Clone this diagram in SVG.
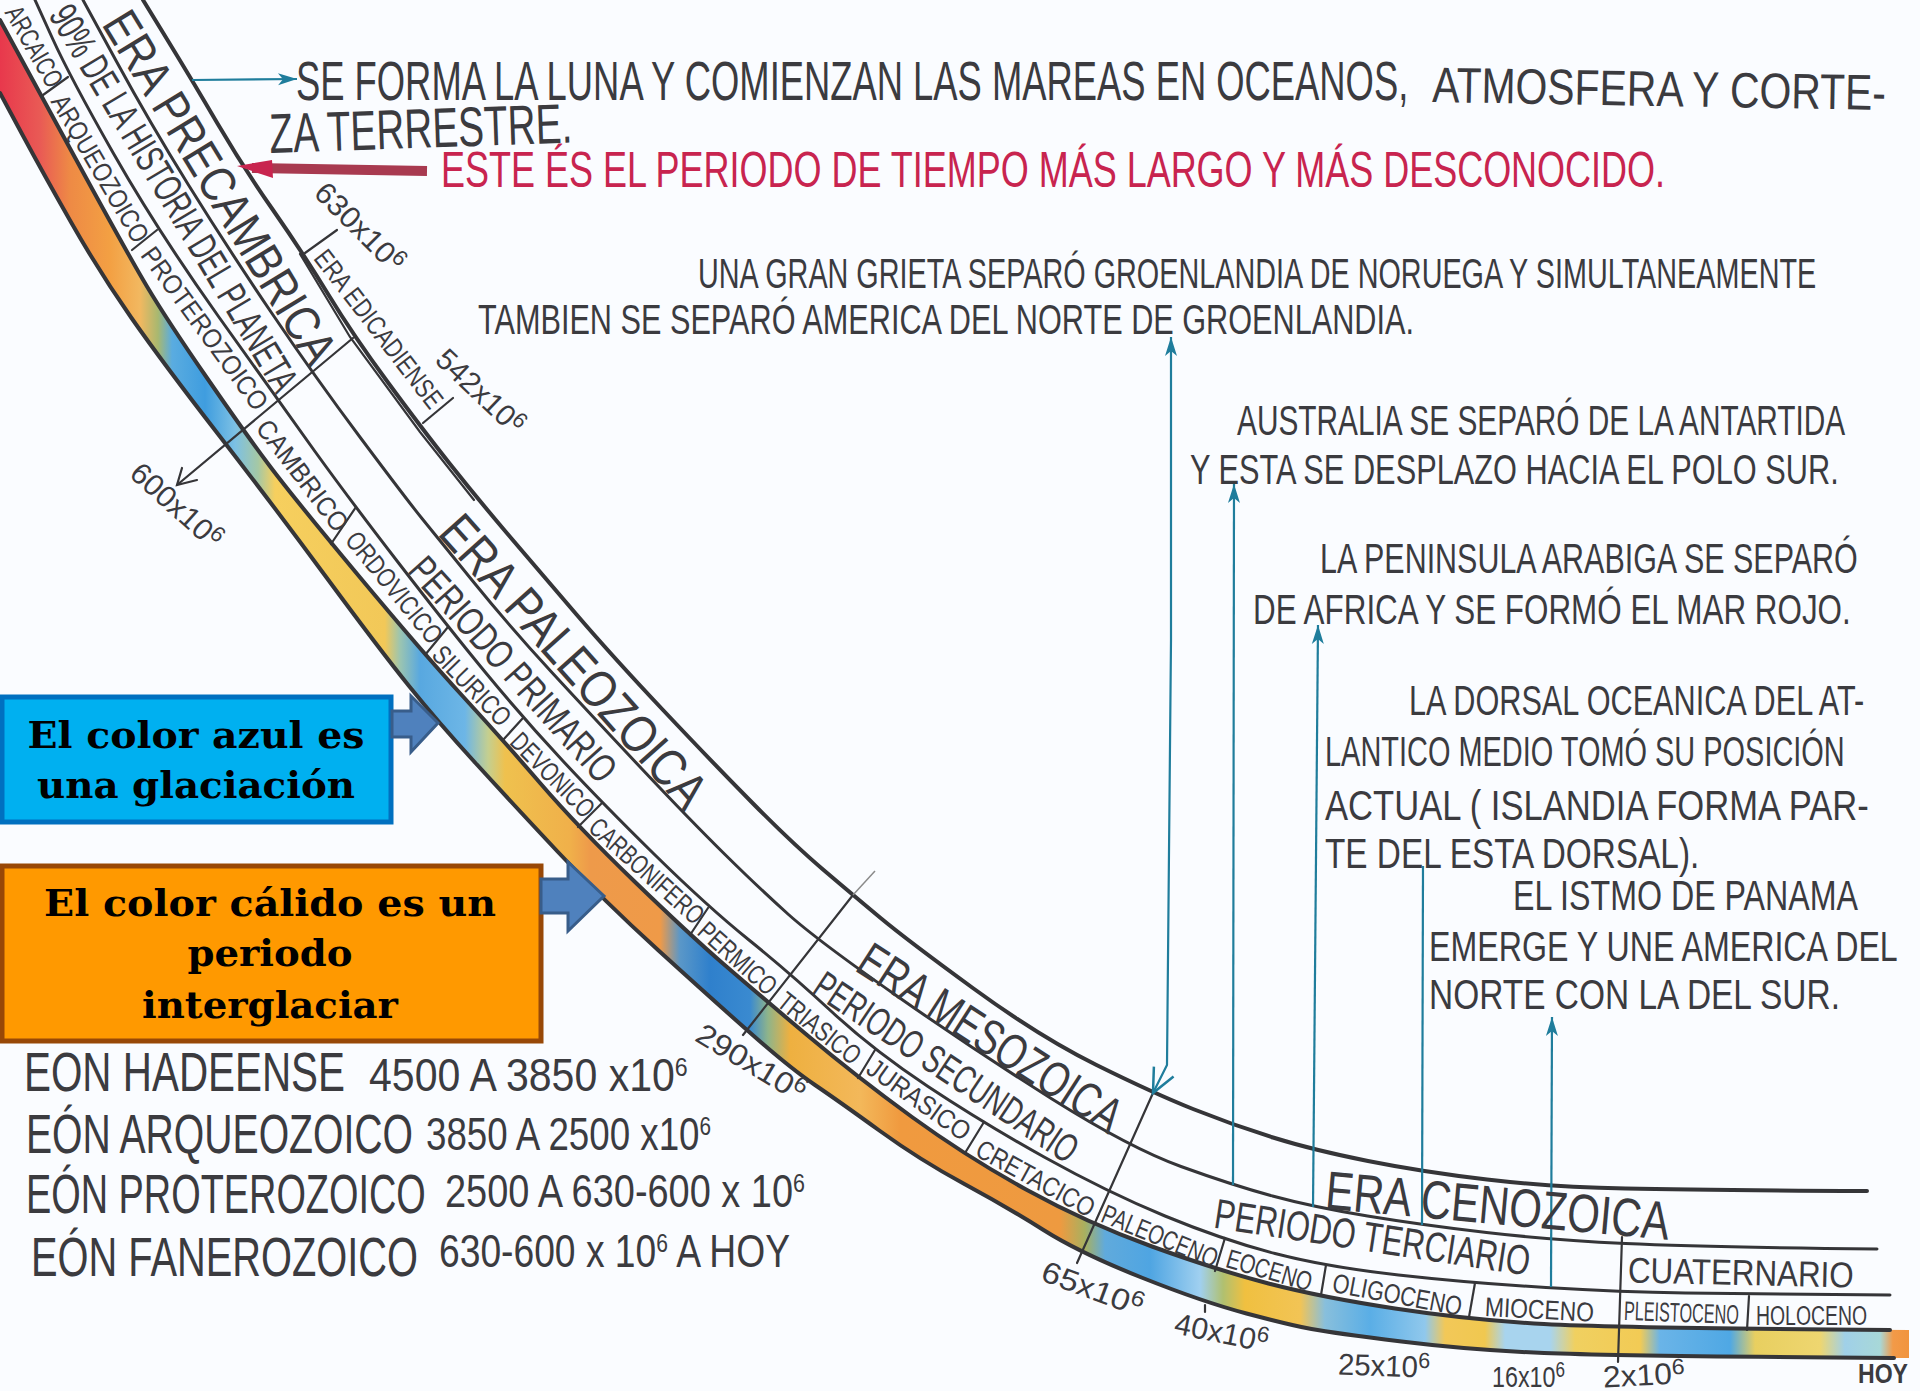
<svg xmlns="http://www.w3.org/2000/svg" width="1920" height="1391" viewBox="0 0 1920 1391">
<style>
.h{font-family:"Liberation Sans Narrow","Liberation Sans",Arial,sans-serif;fill:#3b3b3f}
.c{dominant-baseline:central}
.r{fill:#c8244f}
.s27{font-size:27px}.s28{font-size:28px}.s30{font-size:30px}.s36{font-size:36px}.s40{font-size:40px}.s42{font-size:42px}.s46{font-size:46px}.s50{font-size:50px}.s52{font-size:52px}.s54{font-size:54px}.s56{font-size:56px}
.b{font-family:"DejaVu Serif",serif;font-weight:bold;font-size:37px;fill:#000;text-anchor:middle}
.l{fill:none;stroke:#353538;stroke-width:3;stroke-linejoin:round;stroke-linecap:round}
.w{stroke-width:4}
.t{fill:none;stroke:#353538;stroke-width:2.2;stroke-linecap:round}
.a{fill:none;stroke:#1f7d9c;stroke-width:2.2;stroke-linejoin:round}
.ba{fill:#4f81bd;stroke:#385d8a;stroke-width:3}
</style>
<defs>
<marker id="tip" markerUnits="userSpaceOnUse" markerWidth="26" markerHeight="16" refX="22" refY="8" orient="auto-start-reverse"><path d="M3,2 L22,8 L3,14 L8,8 Z" fill="#1f7d9c"/></marker>
<marker id="open" markerUnits="userSpaceOnUse" markerWidth="34" markerHeight="30" refX="30" refY="15" orient="auto-start-reverse"><path d="M6,4 L30,15 L6,26" fill="none" stroke="#1f7d9c" stroke-width="2.5"/></marker>
<linearGradient id="clima" gradientUnits="userSpaceOnUse" x1="0" y1="0" x2="1920" y2="0">
<stop offset="0" stop-color="#e8384c"/><stop offset=".0208" stop-color="#e95a55"/><stop offset=".0365" stop-color="#ee8a45"/><stop offset=".0573" stop-color="#f3a043"/><stop offset=".0729" stop-color="#f2b860"/><stop offset=".0823" stop-color="#a8b870"/><stop offset=".0896" stop-color="#5aace0"/><stop offset=".1068" stop-color="#3f9ddf"/><stop offset=".1224" stop-color="#7cc0e4"/><stop offset=".1344" stop-color="#a5c8a5"/><stop offset=".1432" stop-color="#f6cf5e"/><stop offset=".2005" stop-color="#f2c858"/><stop offset=".2083" stop-color="#9cc5b0"/><stop offset=".2188" stop-color="#58a8e0"/><stop offset=".2422" stop-color="#6db6e6"/><stop offset=".2542" stop-color="#c4cf90"/><stop offset=".263" stop-color="#efc14e"/><stop offset=".2969" stop-color="#f0b04a"/><stop offset=".3073" stop-color="#ee9a4a"/><stop offset=".3438" stop-color="#ef9a48"/><stop offset=".3542" stop-color="#5a97c8"/><stop offset=".3698" stop-color="#2f80cc"/><stop offset=".3906" stop-color="#3a8ad0"/><stop offset=".4" stop-color="#8fb48a"/><stop offset=".4115" stop-color="#eeb040"/><stop offset=".4479" stop-color="#f3b85a"/><stop offset=".4688" stop-color="#f09a3f"/><stop offset=".5521" stop-color="#ee9a40"/><stop offset=".5651" stop-color="#a8b060"/><stop offset=".5755" stop-color="#60aadc"/><stop offset=".599" stop-color="#4fa5e2"/><stop offset=".625" stop-color="#a0d0f0"/><stop offset=".637" stop-color="#b0c070"/><stop offset=".6484" stop-color="#f0c040"/><stop offset=".6771" stop-color="#f2c455"/><stop offset=".6901" stop-color="#88bfdc"/><stop offset=".7135" stop-color="#5aaee6"/><stop offset=".7422" stop-color="#90c8ec"/><stop offset=".7526" stop-color="#f2c858"/><stop offset=".7734" stop-color="#f0c850"/><stop offset=".7839" stop-color="#a8d4ee"/><stop offset=".8073" stop-color="#a8d4ee"/><stop offset=".8203" stop-color="#f0d060"/><stop offset=".8542" stop-color="#f2cb55"/><stop offset=".8646" stop-color="#6ab4e8"/><stop offset=".901" stop-color="#4fa8e4"/><stop offset=".9141" stop-color="#e8cf60"/><stop offset=".9479" stop-color="#eed670"/><stop offset=".9609" stop-color="#a0d0e8"/><stop offset=".9792" stop-color="#a8d8d8"/><stop offset=".9859" stop-color="#f29a48"/><stop offset="1" stop-color="#f09038"/>
</linearGradient>
</defs>
<rect width="1920" height="1391" fill="#fafcff"/>
<g id="banda-climatica">
<path fill="url(#clima)" d="M0,20 L63.5,136.5 Q127,253 147,286.5 Q167,320 206,376.5 Q245,433 269,465 Q293,497 358,575 Q423,653 463,696.5 Q503,740 540.5,783.5 Q578,827 634,881 Q690,935 723.5,964 Q757,993 807,1035 Q857,1077 912,1117 Q967,1157 1027,1190 Q1087,1223 1152,1246.5 Q1217,1270 1268.5,1283.5 Q1320,1297 1395,1308.5 Q1470,1320 1544,1324 Q1618,1328 1909,1330 L1909,1358 L1894,1358 Q1618,1356 1544,1353 Q1470,1350 1401.5,1341.5 Q1333,1333 1311.5,1329 Q1290,1325 1246.5,1313.5 Q1203,1302 1141.5,1277.5 Q1080,1253 1043.5,1230 Q1007,1207 963.5,1183.5 Q920,1160 880,1131 Q840,1102 815,1085 Q790,1068 751.5,1034 Q713,1000 658,950 Q603,900 557.5,851.5 Q512,803 475,762.5 Q438,722 409,686 Q380,650 326.5,577.5 Q273,505 218,434 Q163,363 131.5,318 Q100,273 71.5,223 Q43,173 21.5,133 L0,93 Z"/>
</g>
<g id="curvas">
<path class="l w" d="M143,0 L167.5,40 Q192,80 217.5,123.5 Q243,167 273,210 Q303,253 328,294 Q353,335 388,382.5 Q423,430 450,464 Q477,498 508.5,535 Q540,572 576.5,614.5 Q613,657 663,710 Q713,763 753,803.5 Q793,844 823,869.5 Q853,895 880,917.5 Q907,940 973.5,988.5 Q1040,1037 1096.5,1065 Q1153,1093 1193,1109 Q1233,1125 1273,1137.5 Q1313,1150 1368,1161 Q1423,1172 1487,1179.5 Q1551,1187 1625.5,1188.5 Q1700,1190 1867,1191"/>
<path class="t" d="M300,254 L350,337 L420,432 L474,500"/>
<path class="l" d="M83,0 L116.5,61.5 Q150,123 188.5,185 Q227,247 271,312 Q315,377 361,438.5 Q407,500 422,518.5 Q437,537 473.5,582 Q510,627 551.5,672 Q593,717 641.5,768.5 Q690,820 725,854.5 Q760,889 788.5,914.5 Q817,940 895.5,995 Q974,1050 1052,1099 Q1130,1148 1181,1166.5 Q1232,1185 1272.5,1196 Q1313,1207 1367.5,1216 Q1422,1225 1486.5,1232.5 Q1551,1240 1625.5,1243.5 Q1700,1247 1877,1249"/>
<path class="l" d="M35,0 L52.5,38.5 Q70,77 113.5,153.5 Q157,230 218.5,316.5 Q280,403 315,451.5 Q350,500 399,563.5 Q448,627 485.5,672.5 Q523,718 562.5,760.5 Q602,803 655,855 Q708,907 749,940 Q790,973 831.5,1011.5 Q873,1050 928,1086.5 Q983,1123 1045,1157.5 Q1107,1192 1165,1216 Q1223,1240 1275,1253.5 Q1327,1267 1398.5,1275 Q1470,1283 1546,1287.5 Q1622,1292 1685.5,1293 Q1749,1294 1890,1295"/>
<path class="l w" d="M0,20 L63.5,136.5 Q127,253 147,286.5 Q167,320 206,376.5 Q245,433 269,465 Q293,497 358,575 Q423,653 463,696.5 Q503,740 540.5,783.5 Q578,827 634,881 Q690,935 723.5,964 Q757,993 807,1035 Q857,1077 912,1117 Q967,1157 1027,1190 Q1087,1223 1152,1246.5 Q1217,1270 1268.5,1283.5 Q1320,1297 1395,1308.5 Q1470,1320 1544,1324 Q1618,1328 1890,1330"/>
<path class="l w" d="M0,93 L21.5,133 Q43,173 71.5,223 Q100,273 131.5,318 Q163,363 218,434 Q273,505 326.5,577.5 Q380,650 409,686 Q438,722 475,762.5 Q512,803 557.5,851.5 Q603,900 658,950 Q713,1000 751.5,1034 Q790,1068 815,1085 Q840,1102 880,1131 Q920,1160 963.5,1183.5 Q1007,1207 1043.5,1230 Q1080,1253 1141.5,1277.5 Q1203,1302 1246.5,1313.5 Q1290,1325 1311.5,1329 Q1333,1333 1401.5,1341.5 Q1470,1350 1544,1353 Q1618,1356 1894,1358"/>
</g>
<g id="conectores">
<path class="t" d="M337,230 L305,253"/>
<path class="t" d="M453,398 L423,423"/>
<path class="t" d="M353,338 L177,485"/>
<path class="t" d="M182,468 L177,485 L197,480"/>
<path class="t" d="M43,95 L68,77"/>
<path class="t" d="M132,250 L157,230"/>
<path class="t" d="M331,544 L356,507"/>
<path class="t" d="M425,655 L448,627"/>
<path class="t" d="M503,740 L523,718"/>
<path class="t" d="M578,827 L602,803"/>
<path class="t" d="M690,935 L708,908"/>
<path class="t" d="M743,1035 L853,895"/>
<path d="M853,895 L875,871" fill="none" stroke="#8a8a8a" stroke-width="1.5"/>
<path class="t" d="M858,1078 L875,1050"/>
<path class="t" d="M965,1153 L984,1122"/>
<path class="t" stroke-width="3" d="M1153,1093 L1077,1263"/>
<path class="t" d="M1215,1271 L1225,1238"/>
<path class="t" d="M1321,1295 L1326,1265"/>
<path class="t" d="M1469,1317 L1475,1283"/>
<path class="t" stroke-width="3" d="M1622,1237 L1618,1362"/>
<path class="t" d="M1747,1330 L1749,1296"/>
<path class="t" stroke-width="3" d="M1205,1305 L1205,1312"/>
<path class="a" d="M192,80 L297,79" marker-end="url(#tip)"/>
<path class="a" d="M1171,337 L1171,640 L1167,1065 L1153,1093" marker-start="url(#tip)" marker-end="url(#open)"/>
<path class="a" d="M1234,484 L1233,1185" marker-start="url(#tip)"/>
<path class="a" d="M1318,625 L1313,1207" marker-start="url(#tip)"/>
<path class="a" d="M1423,866 L1422,1225"/>
<path class="a" d="M1552,1017 L1551,1287" marker-start="url(#tip)"/>
<path d="M427,171 L252,168" fill="none" stroke="#a83a50" stroke-width="10"/>
<path d="M272,160 L237,166 L273,178 Z" fill="#c8244f"/>
</g>
<g id="caja-azul">
<rect x="2" y="697" width="389" height="125" fill="#00b0f0" stroke="#0070c0" stroke-width="5"/>
<path class="ba" d="M392,711 L411,711 L411,696 L438,723 L411,752 L411,737 L392,737 Z"/>
<text class="b" x="196" y="748" textLength="337" lengthAdjust="spacingAndGlyphs">El color azul es</text>
<text class="b" x="196" y="798" textLength="318" lengthAdjust="spacingAndGlyphs">una glaciación</text>
</g>
<g id="caja-naranja">
<rect x="2" y="866" width="539" height="175" fill="#ff9900" stroke="#984807" stroke-width="5"/>
<path class="ba" d="M541,879 L568,879 L568,862 L604,896 L568,931 L568,913 L541,913 Z"/>
<text class="b" x="270" y="916" textLength="452" lengthAdjust="spacingAndGlyphs">El color cálido es un</text>
<text class="b" x="270" y="966" textLength="165" lengthAdjust="spacingAndGlyphs">periodo</text>
<text class="b" x="270" y="1018" textLength="256" lengthAdjust="spacingAndGlyphs">interglaciar</text>
</g>
<g id="notas">
<text class="h s56" transform="translate(296 100) scale(.75 1)" textLength="1483" lengthAdjust="spacingAndGlyphs">SE FORMA LA LUNA Y COMIENZAN LAS MAREAS EN OCEANOS,</text>
<text class="h s50" transform="translate(1432 102) rotate(1) scale(.75 1)" textLength="605" lengthAdjust="spacingAndGlyphs">ATMOSFERA Y CORTE-</text>
<text class="h s56" transform="translate(270 153) rotate(-2) scale(.75 1)" textLength="404" lengthAdjust="spacingAndGlyphs">ZA TERRESTRE.</text>
<text class="h s50 r" transform="translate(441 187) scale(.75 1)" textLength="1632" lengthAdjust="spacingAndGlyphs">ESTE ÉS EL PERIODO DE TIEMPO MÁS LARGO Y MÁS DESCONOCIDO.</text>
<text class="h s42" transform="translate(698 288) scale(.75 1)" textLength="1491" lengthAdjust="spacingAndGlyphs">UNA GRAN GRIETA SEPARÓ GROENLANDIA DE NORUEGA Y SIMULTANEAMENTE</text>
<text class="h s42" transform="translate(478 334) scale(.75 1)" textLength="1248" lengthAdjust="spacingAndGlyphs">TAMBIEN SE SEPARÓ AMERICA DEL NORTE DE GROENLANDIA.</text>
<text class="h s42" transform="translate(1237 435) scale(.75 1)" textLength="811" lengthAdjust="spacingAndGlyphs">AUSTRALIA SE SEPARÓ DE LA ANTARTIDA</text>
<text class="h s42" transform="translate(1190 484) scale(.75 1)" textLength="865" lengthAdjust="spacingAndGlyphs">Y ESTA SE DESPLAZO HACIA EL POLO SUR.</text>
<text class="h s42" transform="translate(1320 573) scale(.75 1)" textLength="717" lengthAdjust="spacingAndGlyphs">LA PENINSULA ARABIGA SE SEPARÓ</text>
<text class="h s42" transform="translate(1253 624) scale(.75 1)" textLength="797" lengthAdjust="spacingAndGlyphs">DE AFRICA Y SE FORMÓ EL MAR ROJO.</text>
<text class="h s42" transform="translate(1409 715) scale(.75 1)" textLength="607" lengthAdjust="spacingAndGlyphs">LA DORSAL OCEANICA DEL AT-</text>
<text class="h s42" transform="translate(1325 766) scale(.75 1)" textLength="693" lengthAdjust="spacingAndGlyphs">LANTICO MEDIO TOMÓ SU POSICIÓN</text>
<text class="h s42" transform="translate(1325 820) scale(.75 1)" textLength="725" lengthAdjust="spacingAndGlyphs">ACTUAL ( ISLANDIA FORMA PAR-</text>
<text class="h s42" transform="translate(1325 868) scale(.75 1)" textLength="499" lengthAdjust="spacingAndGlyphs">TE DEL ESTA DORSAL).</text>
<text class="h s42" transform="translate(1513 910) scale(.75 1)" textLength="460" lengthAdjust="spacingAndGlyphs">EL ISTMO DE PANAMA</text>
<text class="h s42" transform="translate(1429 961) scale(.75 1)" textLength="625" lengthAdjust="spacingAndGlyphs">EMERGE Y UNE AMERICA DEL</text>
<text class="h s42" transform="translate(1429 1009) scale(.75 1)" textLength="548" lengthAdjust="spacingAndGlyphs">NORTE CON LA DEL SUR.</text>
</g>
<g id="eones">
<text class="h s56" transform="translate(24 1091) scale(.75 1)" textLength="428" lengthAdjust="spacingAndGlyphs">EON HADEENSE</text>
<text class="h s46" transform="translate(369 1091) scale(.75 1)" textLength="425" lengthAdjust="spacingAndGlyphs">4500 A 3850 x10<tspan dy="-15" font-size="26">6</tspan></text>
<text class="h s56" transform="translate(26 1153) scale(.75 1)" textLength="516" lengthAdjust="spacingAndGlyphs">EÓN ARQUEOZOICO</text>
<text class="h s46" transform="translate(426 1150) scale(.75 1)" textLength="380" lengthAdjust="spacingAndGlyphs">3850 A 2500 x10<tspan dy="-15" font-size="26">6</tspan></text>
<text class="h s56" transform="translate(26 1213) scale(.75 1)" textLength="533" lengthAdjust="spacingAndGlyphs">EÓN PROTEROZOICO</text>
<text class="h s46" transform="translate(445 1207) scale(.75 1)" textLength="480" lengthAdjust="spacingAndGlyphs">2500 A 630-600 x 10<tspan dy="-15" font-size="26">6</tspan></text>
<text class="h s56" transform="translate(31 1276) scale(.75 1)" textLength="516" lengthAdjust="spacingAndGlyphs">EÓN FANEROZOICO</text>
<text class="h s46" transform="translate(439 1267) scale(.75 1)" textLength="468" lengthAdjust="spacingAndGlyphs">630-600 x 10<tspan dy="-15" font-size="26">6</tspan><tspan dy="15"> A HOY</tspan></text>
</g>
<g id="etiquetas-eras">
<text class="h c s50" transform="translate(116 15) rotate(58.8) scale(.75 1)" textLength="537" lengthAdjust="spacingAndGlyphs">ERA PRECAMBRICA</text>
<text class="h c s40" transform="translate(60 8) rotate(59) scale(.75 1)" textLength="591" lengthAdjust="spacingAndGlyphs">90% DE LA HISTORIA DEL PLANETA</text>
<text class="h c s27" transform="translate(320 253) rotate(52.4)" textLength="192" lengthAdjust="spacingAndGlyphs">ERA EDICADIENSE</text>
<text class="h c s52" transform="translate(450 522) rotate(48.3) scale(.75 1)" textLength="497" lengthAdjust="spacingAndGlyphs">ERA PALEOZOICA</text>
<text class="h c s40" transform="translate(417 562) rotate(48) scale(.75 1)" textLength="384" lengthAdjust="spacingAndGlyphs">PERIODO PRIMARIO</text>
<text class="h c s50" transform="translate(863 955) rotate(32.9) scale(.75 1)" textLength="405" lengthAdjust="spacingAndGlyphs">ERA MESOZOICA</text>
<text class="h c s40" transform="translate(818 981) rotate(33.8) scale(.75 1)" textLength="412" lengthAdjust="spacingAndGlyphs">PERIODO SECUNDARIO</text>
<text class="h c s54" transform="translate(1326 1190) rotate(5.2) scale(.75 1)" textLength="460" lengthAdjust="spacingAndGlyphs">ERA CENOZOICA</text>
<text class="h c s42" transform="translate(1215 1213) rotate(8.7) scale(.75 1)" textLength="425" lengthAdjust="spacingAndGlyphs">PERIODO TERCIARIO</text>
<text class="h c s36" transform="translate(1628 1270) rotate(1.3) scale(.75 1)" textLength="301" lengthAdjust="spacingAndGlyphs">CUATERNARIO</text>
</g>
<g id="etiquetas-periodos">
<text class="h c s27" transform="translate(12 8) rotate(60.3)" textLength="89" lengthAdjust="spacingAndGlyphs">ARCAICO</text>
<text class="h c s27" transform="translate(58 97) rotate(59.6)" textLength="166" lengthAdjust="spacingAndGlyphs">ARQUEOZOICO</text>
<text class="h c s27" transform="translate(147 250) rotate(53.8)" textLength="195" lengthAdjust="spacingAndGlyphs">PROTEROZOICO</text>
<text class="h c s27" transform="translate(262 423) rotate(52.6)" textLength="133" lengthAdjust="spacingAndGlyphs">CAMBRICO</text>
<text class="h c s27" transform="translate(351 535) rotate(50.7)" textLength="136" lengthAdjust="spacingAndGlyphs">ORDOVICICO</text>
<text class="h c s27" transform="translate(437 650) rotate(46)" textLength="100" lengthAdjust="spacingAndGlyphs">SILURICO</text>
<text class="h c s27" transform="translate(515 737) rotate(45.4)" textLength="107" lengthAdjust="spacingAndGlyphs">DEVONICO</text>
<text class="h c s27" transform="translate(593 823) rotate(42)" textLength="144" lengthAdjust="spacingAndGlyphs">CARBONIFERO</text>
<text class="h c s27" transform="translate(702 927) rotate(41.6)" textLength="95" lengthAdjust="spacingAndGlyphs">PERMICO</text>
<text class="h c s27" transform="translate(781 998) rotate(38.4)" textLength="98" lengthAdjust="spacingAndGlyphs">TRIASICO</text>
<text class="h c s27" transform="translate(870 1065) rotate(35.5)" textLength="120" lengthAdjust="spacingAndGlyphs">JURASICO</text>
<text class="h c s27" transform="translate(978 1147) rotate(28.7)" textLength="131" lengthAdjust="spacingAndGlyphs">CRETACICO</text>
<text class="h c s27" transform="translate(1103 1213) rotate(22.4)" textLength="123" lengthAdjust="spacingAndGlyphs">PALEOCENO</text>
<text class="h c s27" transform="translate(1227 1258) rotate(16.4)" textLength="88" lengthAdjust="spacingAndGlyphs">EOCENO</text>
<text class="h c s27" transform="translate(1333 1283) rotate(10.5)" textLength="131" lengthAdjust="spacingAndGlyphs">OLIGOCENO</text>
<text class="h c s27" transform="translate(1485 1307) rotate(3)" textLength="109" lengthAdjust="spacingAndGlyphs">MIOCENO</text>
<text class="h c s27" transform="translate(1624 1311) rotate(2)" textLength="115" lengthAdjust="spacingAndGlyphs">PLEISTOCENO</text>
<text class="h c s27" transform="translate(1756 1316)" textLength="111" lengthAdjust="spacingAndGlyphs">HOLOCENO</text>
</g>
<g id="fechas">
<text class="h c s30" transform="translate(320 187) rotate(45)" textLength="113" lengthAdjust="spacingAndGlyphs">630x10<tspan dy="-7" font-size="22">6</tspan></text>
<text class="h c s30" transform="translate(441 354) rotate(43.5)" textLength="109" lengthAdjust="spacingAndGlyphs">542x10<tspan dy="-7" font-size="22">6</tspan></text>
<text class="h c s30" transform="translate(135 468) rotate(42)" textLength="112" lengthAdjust="spacingAndGlyphs">600x10<tspan dy="-7" font-size="22">6</tspan></text>
<text class="h c s30" transform="translate(699 1031) rotate(31)" textLength="122" lengthAdjust="spacingAndGlyphs">290x10<tspan dy="-7" font-size="22">6</tspan></text>
<text class="h c s30" transform="translate(1043 1270) rotate(20.5)" textLength="106" lengthAdjust="spacingAndGlyphs">65x10<tspan dy="-7" font-size="22">6</tspan></text>
<text class="h c s30" transform="translate(1175 1323) rotate(11.5)" textLength="95" lengthAdjust="spacingAndGlyphs">40x10<tspan dy="-7" font-size="22">6</tspan></text>
<text class="h c s30" transform="translate(1338 1364) rotate(2)" textLength="92" lengthAdjust="spacingAndGlyphs">25x10<tspan dy="-7" font-size="22">6</tspan></text>
<text class="h c s30" transform="translate(1492 1376)" textLength="73" lengthAdjust="spacingAndGlyphs">16x10<tspan dy="-7" font-size="22">6</tspan></text>
<text class="h c s30" transform="translate(1603 1377) rotate(-3)" textLength="82" lengthAdjust="spacingAndGlyphs">2x10<tspan dy="-7" font-size="22">6</tspan></text>
<text class="h c s28" transform="translate(1858 1373)" textLength="50" lengthAdjust="spacingAndGlyphs" font-weight="bold">HOY</text>
</g>
</svg>
